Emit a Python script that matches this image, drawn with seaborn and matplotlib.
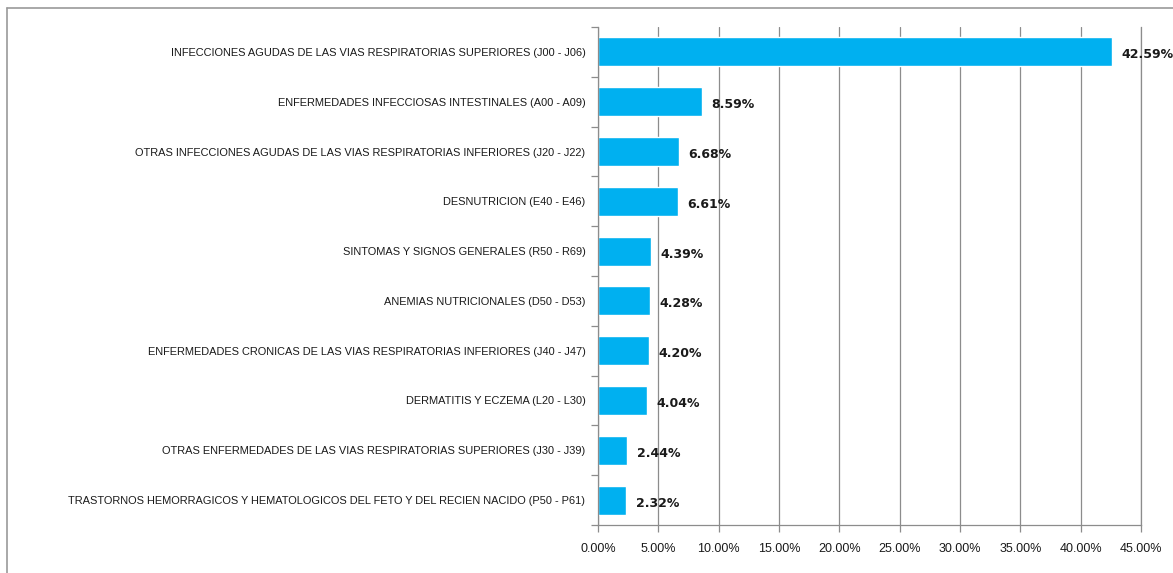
import matplotlib
matplotlib.use("Agg")
import matplotlib.pyplot as plt
import seaborn as sns
import pandas as pd
from matplotlib.lines import Line2D
from matplotlib.ticker import FuncFormatter, MultipleLocator

# Datos
categorias = [
    "INFECCIONES AGUDAS DE LAS VIAS RESPIRATORIAS SUPERIORES (J00 - J06)",
    "ENFERMEDADES INFECCIOSAS INTESTINALES (A00 - A09)",
    "OTRAS INFECCIONES AGUDAS DE LAS VIAS RESPIRATORIAS INFERIORES (J20 - J22)",
    "DESNUTRICION (E40 - E46)",
    "SINTOMAS Y SIGNOS GENERALES (R50 - R69)",
    "ANEMIAS NUTRICIONALES (D50 - D53)",
    "ENFERMEDADES CRONICAS DE LAS VIAS RESPIRATORIAS INFERIORES (J40 - J47)",
    "DERMATITIS Y ECZEMA (L20 - L30)",
    "OTRAS ENFERMEDADES DE LAS VIAS RESPIRATORIAS SUPERIORES (J30 - J39)",
    "TRASTORNOS HEMORRAGICOS Y HEMATOLOGICOS DEL FETO Y DEL RECIEN NACIDO (P50 - P61)",
]
porcentajes = [42.59, 8.59, 6.68, 6.61, 4.39, 4.28, 4.20, 4.04, 2.44, 2.32]

df = pd.DataFrame({"categoria": categorias, "pct": porcentajes})

sns.set_theme(style="white")
plt.rcParams["font.family"] = ["Liberation Sans", "DejaVu Sans"]

fig = plt.figure(figsize=(11.73, 5.73), dpi=100)
ax = fig.add_axes([598 / 1173, 1 - 525 / 573, 543 / 1173, 498 / 573])

sns.barplot(data=df, x="pct", y="categoria", color="#00B0F0", width=0.58,
            saturation=1, ax=ax, orient="h")

ax.set_xlim(0, 45)
ax.set_ylim(len(categorias) - 0.5, -0.5)
ax.xaxis.set_major_locator(MultipleLocator(5))
ax.xaxis.set_major_formatter(FuncFormatter(lambda v, p: f"{v:.2f}%"))
ax.grid(axis="x", color="#8c8c8c", linewidth=0.9)
ax.set_axisbelow(True)
ax.set_xlabel("")
ax.set_ylabel("")

ax.spines["top"].set_visible(False)
for s in ["left", "bottom", "right"]:
    ax.spines[s].set_color("#8c8c8c")
    ax.spines[s].set_linewidth(0.9)

# ticks eje y en los bordes de categoria
ax.set_yticks(range(len(categorias)))
ax.set_yticklabels(categorias, fontsize=7.9, color="#1a1a1a")
ax.set_yticks([i - 0.5 for i in range(len(categorias) + 1)], minor=True)
ax.tick_params(axis="y", which="major", length=0, pad=9)
ax.tick_params(axis="y", which="minor", length=5, color="#8c8c8c", width=0.9, left=True)
ax.tick_params(axis="x", length=5, color="#8c8c8c", width=0.9, bottom=True,
               labelsize=9, labelcolor="#1a1a1a", pad=8)

# etiquetas de valor
for i, v in enumerate(porcentajes):
    ax.text(v + 0.8, i + 0.06, f"{v:.2f}%", va="center", ha="left",
            fontsize=9, fontweight="bold", color="#1a1a1a",
            family=["DejaVu Sans"])

# marco del grafico
fig.add_artist(Line2D([7 / 1173, 1], [1 - 8 / 573, 1 - 8 / 573],
                      transform=fig.transFigure, color="#9a9a9a", linewidth=1.2))
fig.add_artist(Line2D([7 / 1173, 7 / 1173], [0, 1 - 8 / 573],
                      transform=fig.transFigure, color="#9a9a9a", linewidth=1.2))

fig.savefig("out.png", dpi=100)
